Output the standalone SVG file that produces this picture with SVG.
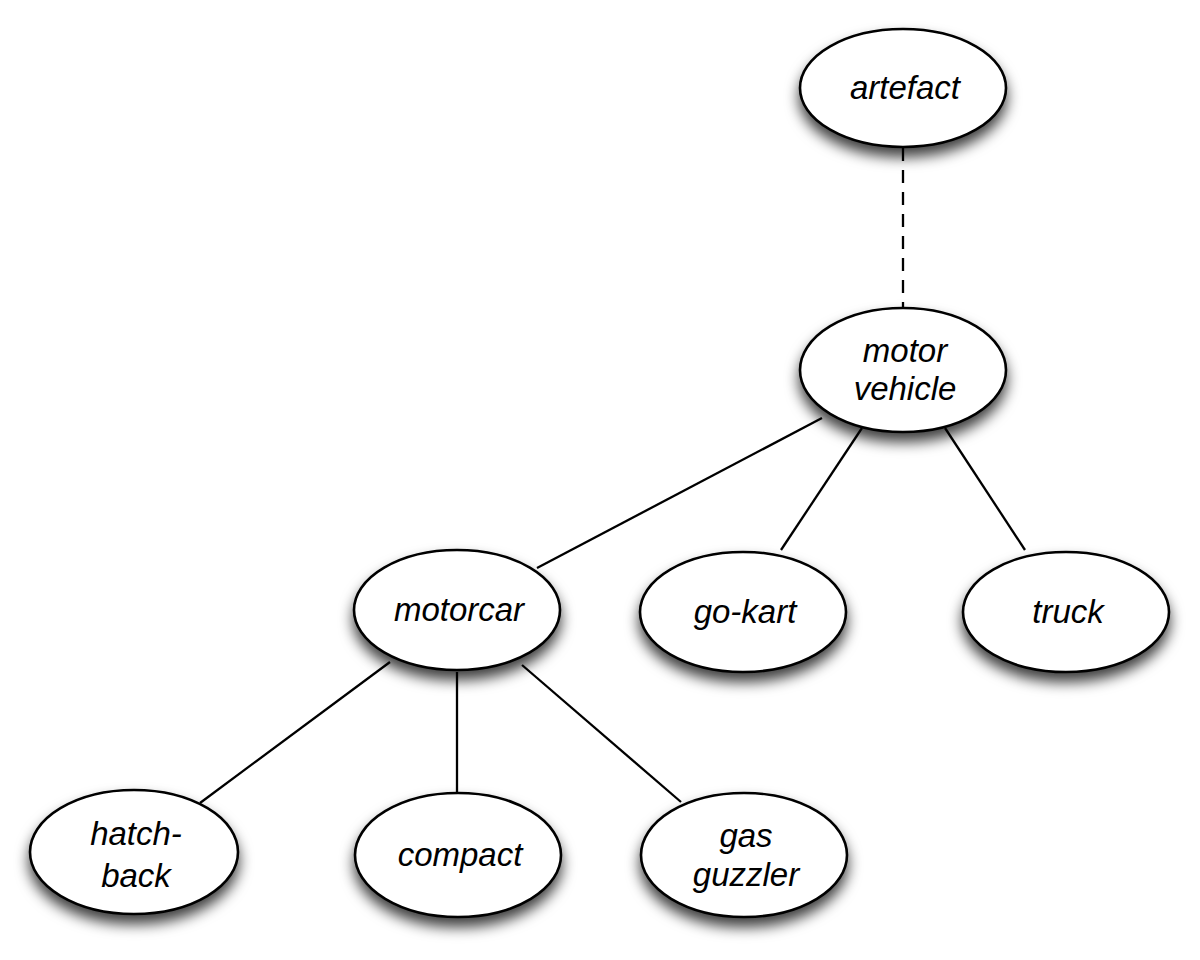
<svg xmlns="http://www.w3.org/2000/svg" width="1200" height="960" viewBox="0 0 1200 960">
<defs>
<filter id="sh" x="-30%" y="-30%" width="160%" height="180%">
<feDropShadow dx="0" dy="9" stdDeviation="7" flood-color="#000" flood-opacity="0.75"/>
</filter>
<style>
.n ellipse{fill:#fff;stroke:#000;stroke-width:2.6;filter:url(#sh)}
.n text{font-family:"Liberation Sans",Arial,sans-serif;font-style:italic;font-size:33px;text-anchor:middle;fill:#000}
.e line{stroke:#000;stroke-width:2.3}
.e .d{stroke-dasharray:13,9}
</style>
</defs>
<rect width="1200" height="960" fill="#fff"/>
<g class="e" id="connectors">
<line class="d" x1="903" y1="148" x2="903" y2="308"/>
<line x1="822" y1="418" x2="537" y2="568"/>
<line x1="862" y1="428" x2="781" y2="550"/>
<line x1="945" y1="428" x2="1025" y2="550"/>
<line x1="390" y1="662" x2="200" y2="803"/>
<line x1="457" y1="672" x2="457" y2="792"/>
<line x1="522" y1="665" x2="681" y2="802"/>
</g>
<g class="n" id="artefact"><ellipse cx="903" cy="88" rx="103" ry="59"/><text x="905" y="99">artefact</text></g>
<g class="n" id="motor-vehicle"><ellipse cx="903" cy="370" rx="103" ry="62"/><text x="905" y="362">motor</text><text x="905" y="400">vehicle</text></g>
<g class="n" id="motorcar"><ellipse cx="457" cy="610" rx="103" ry="60"/><text x="459" y="621">motorcar</text></g>
<g class="n" id="go-kart"><ellipse cx="743" cy="612" rx="103" ry="60"/><text x="745" y="623">go-kart</text></g>
<g class="n" id="truck"><ellipse cx="1066" cy="612" rx="103" ry="60"/><text x="1068" y="623">truck</text></g>
<g class="n" id="hatch-back"><ellipse cx="134" cy="852" rx="104" ry="62"/><text x="136" y="845">hatch-</text><text x="136" y="887">back</text></g>
<g class="n" id="compact"><ellipse cx="458" cy="855" rx="103" ry="62"/><text x="460" y="866">compact</text></g>
<g class="n" id="gas-guzzler"><ellipse cx="744" cy="855" rx="103" ry="62"/><text x="746" y="847">gas</text><text x="746" y="886">guzzler</text></g>
</svg>
